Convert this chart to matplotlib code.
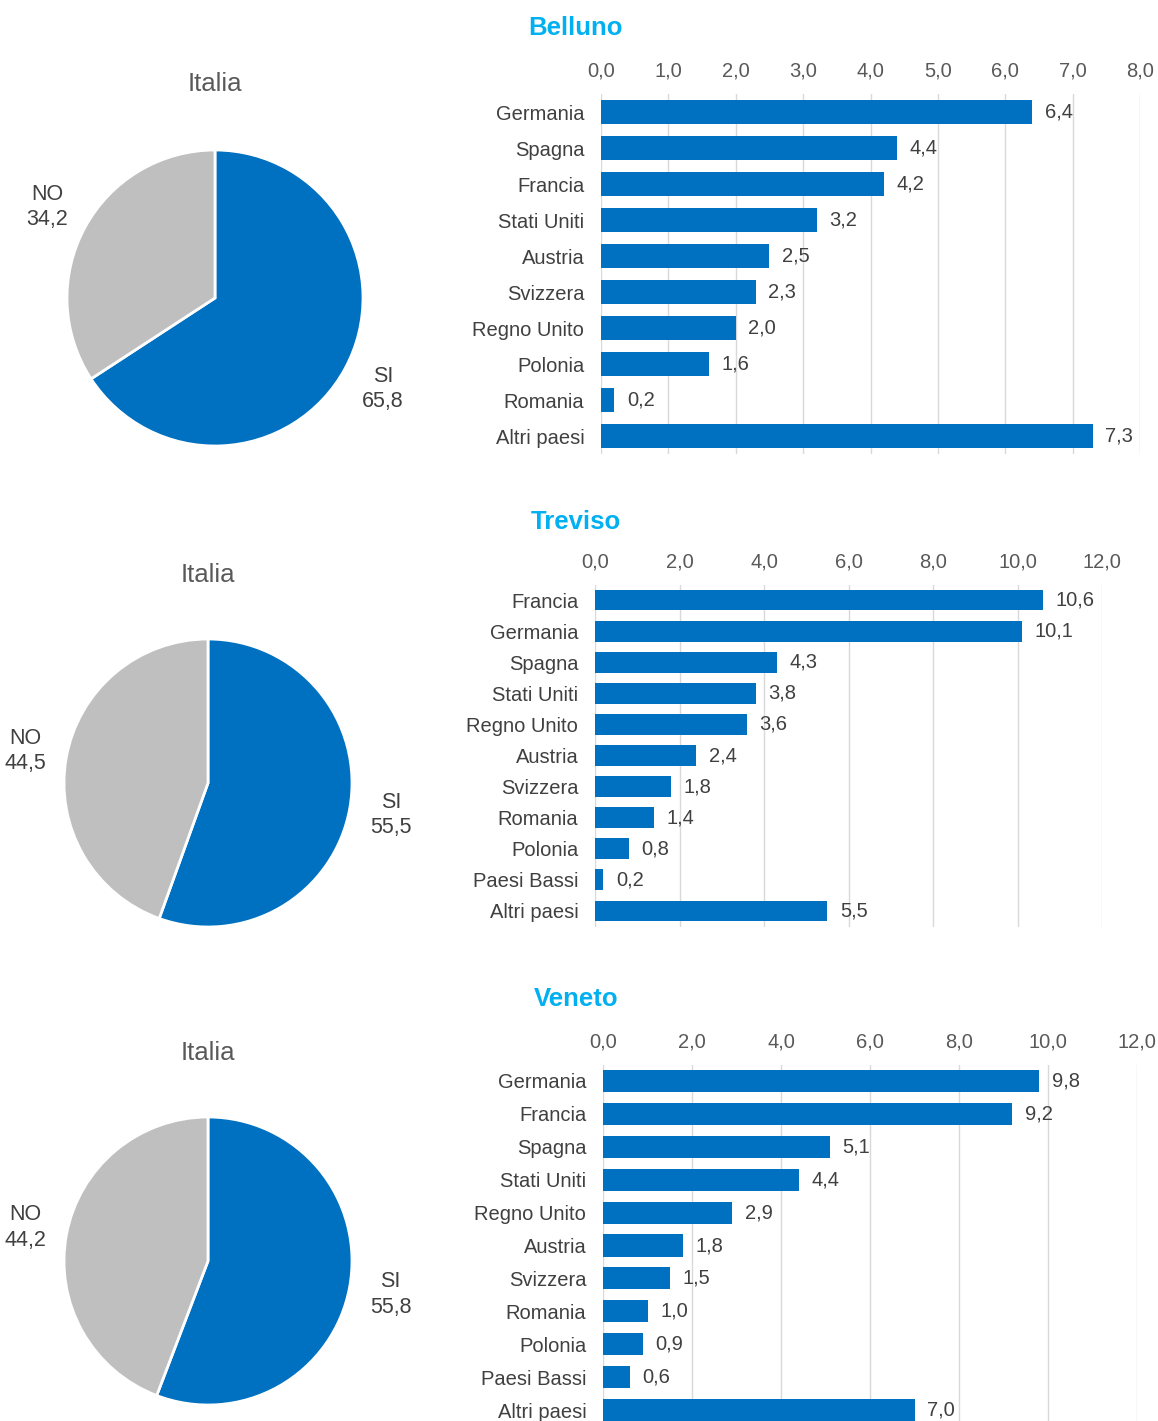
import matplotlib

matplotlib.use("Agg")
import matplotlib.pyplot as plt
from matplotlib.ticker import FuncFormatter, MultipleLocator

plt.rcParams["font.family"] = ["Liberation Sans Narrow", "Liberation Sans", "DejaVu Sans"]

BLUE = "#0070C0"
GREY = "#BFBFBF"
TITLE_BLUE = "#00B0F0"

# ---- data ----
pie_labels = ["SI", "NO"]
pie_belluno = [65.8, 34.2]
pie_treviso = [55.5, 44.5]
pie_veneto = [55.8, 44.2]

belluno_countries = ["Germania", "Spagna", "Francia", "Stati Uniti", "Austria",
                     "Svizzera", "Regno Unito", "Polonia", "Romania", "Altri paesi"]
belluno_values = [6.4, 4.4, 4.2, 3.2, 2.5, 2.3, 2.0, 1.6, 0.2, 7.3]

treviso_countries = ["Francia", "Germania", "Spagna", "Stati Uniti", "Regno Unito",
                     "Austria", "Svizzera", "Romania", "Polonia", "Paesi Bassi",
                     "Altri paesi"]
treviso_values = [10.6, 10.1, 4.3, 3.8, 3.6, 2.4, 1.8, 1.4, 0.8, 0.2, 5.5]

veneto_countries = ["Germania", "Francia", "Spagna", "Stati Uniti", "Regno Unito",
                    "Austria", "Svizzera", "Romania", "Polonia", "Paesi Bassi",
                    "Altri paesi"]
veneto_values = [9.8, 9.2, 5.1, 4.4, 2.9, 1.8, 1.5, 1.0, 0.9, 0.6, 7.0]

W, H = 1158, 1421


def comma(v):
    return f"{v:.1f}".replace(".", ",")


def px_axes(fig, left, top, width, height):
    return fig.add_axes([left / W, 1 - (top + height) / H, width / W, height / H])


def draw_pie(fig, cx, cy, r, values, title_y):
    ax = px_axes(fig, cx - r, cy - r, 2 * r, 2 * r)
    labels = [f"{lab}\n{comma(v)}" for lab, v in zip(pie_labels, values)]
    ax.pie(values, labels=labels, colors=[BLUE, GREY], startangle=90,
           counterclock=False, labeldistance=1.29,
           wedgeprops=dict(edgecolor="white", linewidth=2),
           textprops=dict(fontsize=15.5, color="#404040", ha="center",
                          va="center", linespacing=1.3,
                          family=["Liberation Sans", "DejaVu Sans"]))
    ax.set_xlim(-1, 1)
    ax.set_ylim(-1, 1)
    ax.set_aspect("equal")
    fig.text(cx / W, 1 - title_y / H, "Italia", ha="center", va="center",
             fontsize=18.5, color="#595959",
             family=["Liberation Sans", "DejaVu Sans"])


def draw_bars(fig, left, top, width, height, countries, values, xmax, step,
              title, title_y):
    ax = px_axes(fig, left, top, width, height)
    y = list(range(len(countries)))
    bars = ax.barh(y, values, height=0.67, color=BLUE, zorder=3)
    ax.bar_label(bars, labels=[comma(v) for v in values], padding=9,
                 fontsize=14.5, color="#404040")
    ax.set_yticks(y)
    ax.set_yticklabels(countries, fontsize=14.5, color="#404040")
    ax.set_ylim(len(countries) - 0.5, -0.5)
    ax.set_xlim(0, xmax)
    ax.xaxis.set_major_locator(MultipleLocator(step))
    ax.xaxis.set_major_formatter(FuncFormatter(lambda v, p: comma(v)))
    ax.xaxis.tick_top()
    ax.tick_params(axis="x", length=0, pad=9.5, labelsize=14.5, labelcolor="#595959")
    ax.tick_params(axis="y", length=0, pad=12)
    ax.grid(axis="x", color="#D9D9D9", linewidth=1, zorder=0)
    for s in ax.spines.values():
        s.set_visible(False)
    fig.text(576 / W, 1 - title_y / H, title, ha="center", va="center",
             fontsize=18.5, fontweight="bold", color=TITLE_BLUE,
             family=["Liberation Sans", "DejaVu Sans"])
    return ax


fig = plt.figure(figsize=(W / 100, H / 100), dpi=100)

draw_pie(fig, 215, 298, 148, pie_belluno, 84)
draw_pie(fig, 208, 783, 144, pie_treviso, 575)
draw_pie(fig, 208, 1261, 144, pie_veneto, 1053)

draw_bars(fig, 601, 94, 539, 360, belluno_countries, belluno_values, 8, 1,
          "Belluno", 28)
draw_bars(fig, 595, 584.5, 507, 342, treviso_countries, treviso_values, 12, 2,
          "Treviso", 522)
draw_bars(fig, 603, 1064.5, 534, 362, veneto_countries, veneto_values, 12, 2,
          "Veneto", 999)

fig.savefig("out.png", dpi=100)
